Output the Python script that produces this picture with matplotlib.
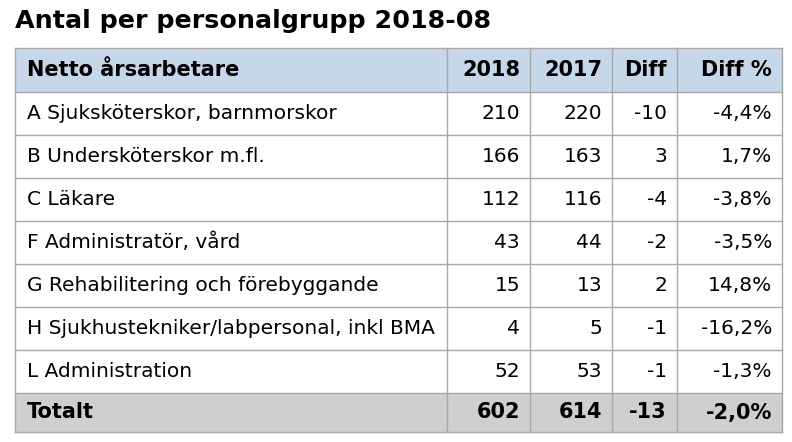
import matplotlib
matplotlib.use("Agg")
import matplotlib.pyplot as plt
from matplotlib.patches import Rectangle

title = "Antal per personalgrupp 2018-08"
headers = ["Netto årsarbetare", "2018", "2017", "Diff", "Diff %"]
categories = ["A Sjuksköterskor, barnmorskor", "B Undersköterskor m.fl.", "C Läkare",
              "F Administratör, vård", "G Rehabilitering och förebyggande",
              "H Sjukhustekniker/labpersonal, inkl BMA", "L Administration"]
v2018 = [210, 166, 112, 43, 15, 4, 52]
v2017 = [220, 163, 116, 44, 13, 5, 53]
diff = [-10, 3, -4, -2, 2, -1, -1]
diff_pct = ["-4,4%", "1,7%", "-3,8%", "-3,5%", "14,8%", "-16,2%", "-1,3%"]
total = ["Totalt", "602", "614", "-13", "-2,0%"]

W, H = 792, 442
fig = plt.figure(figsize=(W/100, H/100), dpi=100)
ax = fig.add_axes([0, 0, 1, 1])
ax.set_xlim(0, W); ax.set_ylim(H, 0); ax.axis("off")

cols = [15, 447, 530, 612, 677, 782]
top, hh, rh = 48, 44, 43
fs = 14.5
ax.text(15, 21, title, fontsize=18.3, fontweight="bold", va="center", ha="left")

def row(y, h, cells, bold, bg):
    ax.add_patch(Rectangle((cols[0], y), cols[-1]-cols[0], h, facecolor=bg, edgecolor="none"))
    f = 15 if bold else fs
    for i, c in enumerate(cells):
        if i == 0:
            ax.text(cols[0]+12, y+h/2, c, fontsize=f, fontweight="bold" if bold else "normal", va="center", ha="left")
        else:
            ax.text(cols[i+1]-10, y+h/2, c, fontsize=f, fontweight="bold" if bold else "normal", va="center", ha="right")

row(top, hh, headers, True, "#c6d7e9")
y = top + hh
for i in range(len(categories)):
    row(y, rh, [categories[i], str(v2018[i]), str(v2017[i]), str(diff[i]), diff_pct[i]], False, "white")
    y += rh
row(y, H-10-y, total, True, "#cfcfcf")
bottom = H-10
for k in range(len(categories)+1):
    yy = top + hh + k*rh
    ax.plot([cols[0], cols[-1]], [yy, yy], color="#a8a8a8", lw=1)
for x in cols:
    ax.plot([x, x], [top, bottom], color="#a8a8a8", lw=1)
ax.plot([cols[0], cols[-1]], [top, top], color="#a8a8a8", lw=1)
ax.plot([cols[0], cols[-1]], [bottom, bottom], color="#a8a8a8", lw=1)
fig.savefig("out.png", dpi=100)
